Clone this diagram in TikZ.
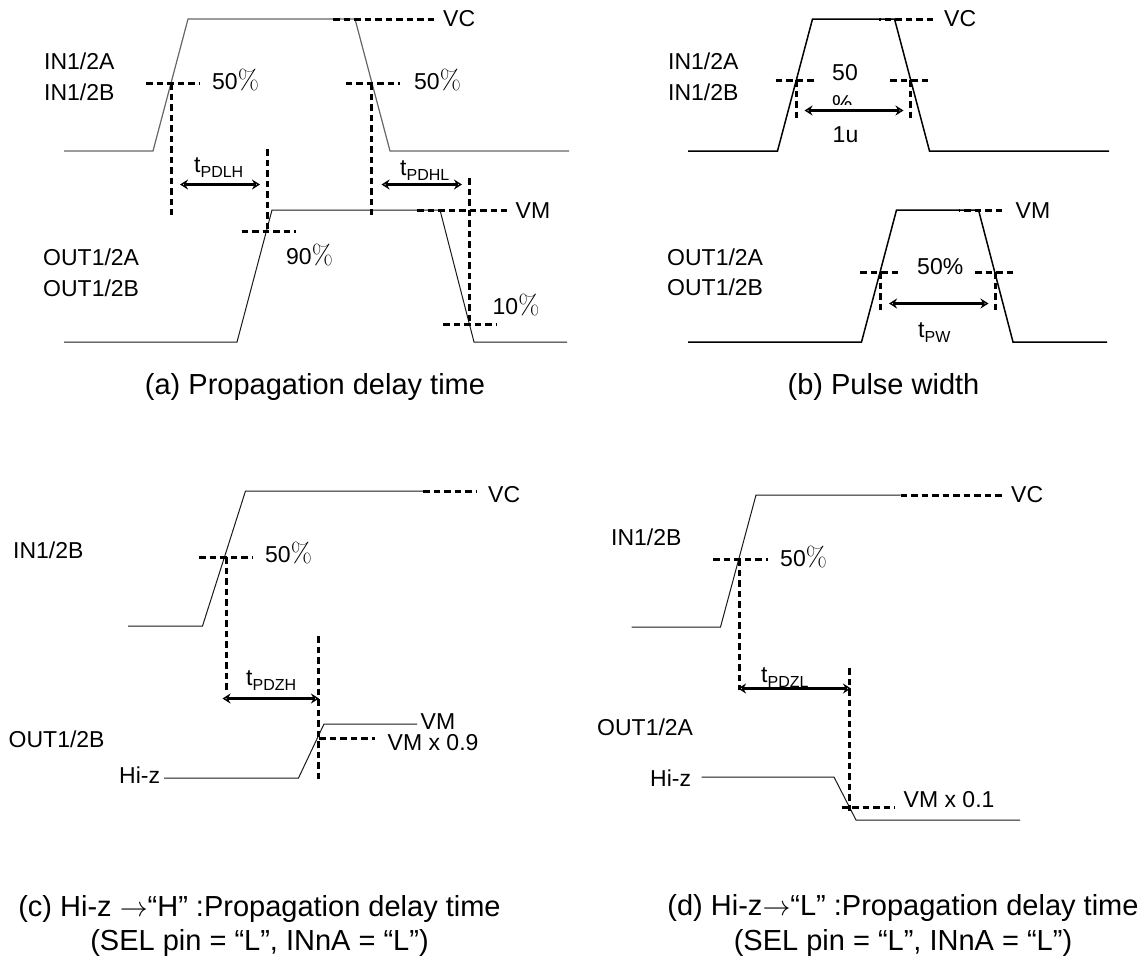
\documentclass[tikz,border=0pt]{standalone}
\usepackage[no-math]{fontspec}
\setmainfont{Liberation Sans}
\usetikzlibrary{arrows.meta}
\newcommand{\tsub}[1]{t\raisebox{-0.25em}{\fontsize{16}{16}\selectfont #1}}
\newcommand{\pct}{\scalebox{1.1}{$\%$}}
\newcommand{\tharrow}{\scalebox{1.12}{$\rightarrow$}}
\tikzset{
  wave/.style={line width=1pt,black!90},
  waveg/.style={line width=1.2pt,black!60},
  waveb/.style={line width=1.5pt,black},
  dsh/.style={line width=2.6pt,dash pattern=on 6.5pt off 4pt},
  dshb/.style={line width=2.2pt,dash pattern=on 6.5pt off 4pt},
  span/.style={line width=2.6pt,{Stealth[length=8pt,width=10pt,open]}-{Stealth[length=8pt,width=10pt,open]}},
  lbl/.style={anchor=west,inner sep=0pt,font=\fontsize{23}{23}\selectfont},
  sublbl/.style={anchor=base west,inner sep=0pt,font=\fontsize{23}{23}\selectfont},
  captext/.style={inner sep=0pt,font=\fontsize{29}{29}\selectfont}
}
\begin{document}
\begin{tikzpicture}[x=1pt,y=-1pt]
  \useasboundingbox (0,0) rectangle (1147,962);
  % (a)
  \draw[waveg] (64,151) -- (153,151) -- (188,19) -- (355,19) -- (390,151) -- (569,151);
  \draw[wave] (64,342) -- (237,342) -- (272,210) -- (440,210) -- (474,342) -- (567,342);
  \draw[dsh] (333,19.5) -- (436,19.5);
  \draw[dsh] (146,83.5) -- (200,83.5);
  \draw[dsh] (345.5,83.5) -- (400,83.5);
  \draw[dsh] (171.5,83) -- (171.5,215);
  \draw[dsh] (371.5,83) -- (371.5,215);
  \draw[dsh] (267.5,149) -- (267.5,231);
  \draw[dsh] (241.5,231.5) -- (295.5,231.5);
  \draw[dsh] (417,210.5) -- (507,210.5);
  \draw[dsh] (469.5,178) -- (469.5,324);
  \draw[dsh] (443,324.5) -- (496,324.5);
  \draw[span] (180,184.5) -- (260,184.5);
  \draw[span] (381.5,184.5) -- (462,184.5);
  \node[lbl] (ina1) at (44,61) {IN1/2A};
  \node[lbl] (ina2) at (44,92) {IN1/2B};
  \node[lbl] (outa1) at (43,257) {OUT1/2A};
  \node[lbl] (outa2) at (43,288) {OUT1/2B};
  \node[lbl] (vca) at (443,19) {VC};
  \node[lbl] (vma) at (515.5,211) {VM};
  \node[lbl] (pa1) at (212,80) {50\pct};
  \node[lbl] (pa2) at (414,80) {50\pct};
  \node[lbl] (pa3) at (286,255) {90\pct};
  \node[lbl] (pa4) at (492.5,305) {10\pct};
  \node[sublbl] (ta1) at (194,172) {\tsub{PDLH}};
  \node[sublbl] (ta2) at (400,175) {\tsub{PDHL}};
  \node[captext] (capa) at (315,387) {(a) Propagation delay time};
  % (b)
  \draw[waveb] (688,151) -- (777.5,151) -- (812.5,19) -- (894.5,19) -- (929.5,151) -- (1109,151);
  \draw[waveb] (688,342) -- (861.5,342) -- (896.5,210) -- (978.5,210) -- (1013,342) -- (1107,342);
  \draw[dshb] (933,19.5) -- (879,19.5);
  \draw[dshb] (775.5,80.5) -- (815,80.5);
  \draw[dshb] (890,80.5) -- (929,80.5);
  \draw[dshb] (796.5,80) -- (796.5,121);
  \draw[dshb] (910.5,80) -- (910.5,121);
  \draw[dshb] (1002,210.5) -- (958.5,210.5);
  \draw[dshb] (860,272.5) -- (900,272.5);
  \draw[dshb] (975,272.5) -- (1013.5,272.5);
  \draw[dshb] (880.5,272) -- (880.5,313);
  \draw[dshb] (995.5,272) -- (995.5,313);
  \draw[span] (804.5,110.5) -- (903.5,110.5);
  \draw[span] (889,303.5) -- (988.5,303.5);
  \node[lbl] (inb1) at (668,61) {IN1/2A};
  \node[lbl] (inb2) at (668,92) {IN1/2B};
  \node[lbl] (outb1) at (667,257) {OUT1/2A};
  \node[lbl] (outb2) at (667,287) {OUT1/2B};
  \node[lbl] (vcb) at (944,19) {VC};
  \node[lbl] (vmb) at (1015.5,211) {VM};
  \node[lbl] (pb1) at (832,73) {50};
  \begin{scope}
    \clip (825,90) rectangle (870,104);
    \node[lbl] (pb2) at (832,104) {\%};
  \end{scope}
  \node[lbl] (pb3) at (917,267) {50\%};
  \node[lbl] (ub) at (832.5,135) {1u};
  \node[sublbl] (tb) at (918,337) {\tsub{PW}};
  \node[captext] (capb) at (883.5,387) {(b) Pulse width};
  % (c)
  \draw[wave] (128,626) -- (202.5,626) -- (245.5,491) -- (423,491);
  \draw[wave] (164,778) -- (298.5,778) -- (324,724) -- (417,724);
  \draw[dsh] (423,491.5) -- (477,491.5);
  \draw[dsh] (199,557.5) -- (252.5,557.5);
  \draw[dsh] (226.5,557) -- (226.5,693);
  \draw[dsh] (318.5,636) -- (318.5,782);
  \draw[dsh] (319,738.5) -- (375,738.5);
  \draw[span] (222.5,698.5) -- (319,698.5);
  \node[lbl] (inc) at (13,550) {IN1/2B};
  \node[lbl] (outc) at (8.5,739) {OUT1/2B};
  \node[lbl] (vcc) at (488,495) {VC};
  \node[lbl] (pc) at (265,553) {50\pct};
  \node[lbl] (vmc) at (420.5,722) {VM};
  \node[lbl] (vmxc) at (387.5,743) {VM x 0.9};
  \node[lbl] (hizc) at (119,775) {Hi-z};
  \node[sublbl] (tc) at (246,685) {\tsub{PDZH}};
  \node[captext] (capc1) at (259.5,909) {(c) Hi-z \tharrow“H” :Propagation delay time};
  \node[captext] (capc2) at (259.5,943) {(SEL pin = “L”, INnA = “L”)};
  % (d)
  \draw[wave] (631.5,627) -- (720.5,627) -- (756,495) -- (900.5,495);
  \draw[wave] (701.5,777) -- (834,777) -- (856,820) -- (1020,820);
  \draw[dsh] (900.5,495.5) -- (1004,495.5);
  \draw[dsh] (713,559.5) -- (767.5,559.5);
  \draw[dsh] (739.5,559) -- (739.5,690);
  \draw[dsh] (849.5,668) -- (849.5,813);
  \draw[dsh] (841.5,807.5) -- (895,807.5);
  \draw[span] (738,688.5) -- (851,688.5);
  \node[lbl] (ind) at (611,537) {IN1/2B};
  \node[lbl] (outd) at (597,727) {OUT1/2A};
  \node[lbl] (vcd) at (1011,495) {VC};
  \node[lbl] (pd) at (780,557) {50\pct};
  \node[lbl] (vmxd) at (903.5,800) {VM x 0.1};
  \node[lbl] (hizd) at (650,778) {Hi-z};
  \node[sublbl] (td) at (761,682) {\tsub{PDZL}};
  \node[captext] (capd1) at (903,908) {(d) Hi-z\tharrow“L” :Propagation delay time};
  \node[captext] (capd2) at (903,943) {(SEL pin = “L”, INnA = “L”)};
\end{tikzpicture}
\end{document}
